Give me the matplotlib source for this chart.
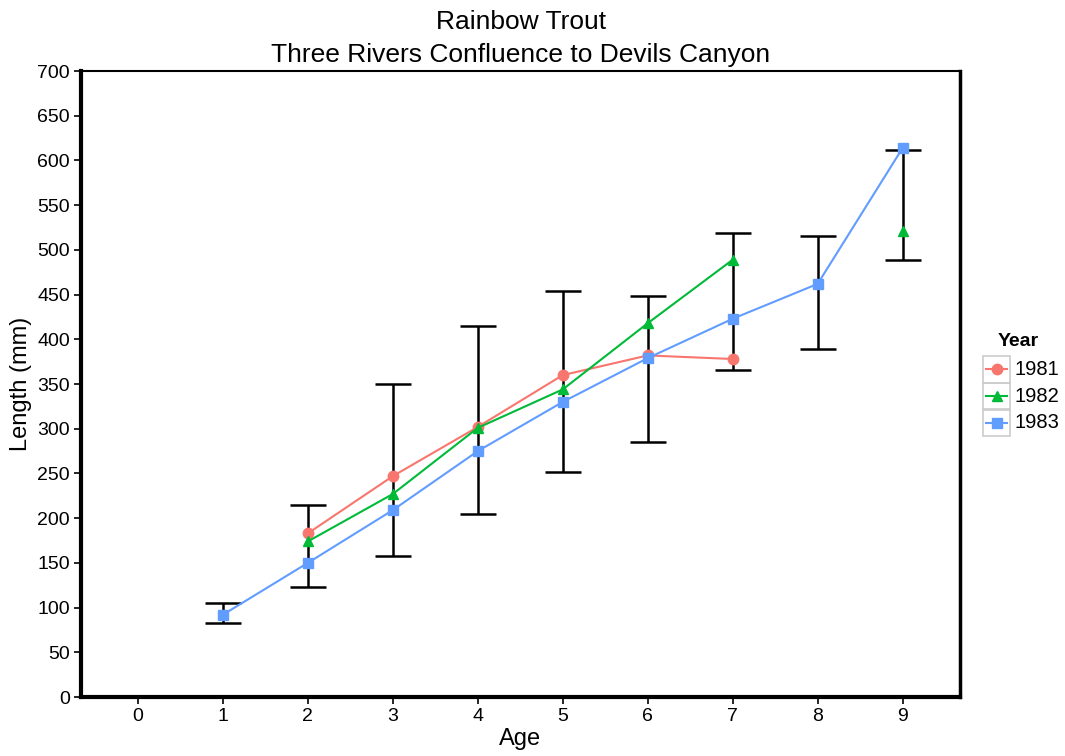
import matplotlib
matplotlib.use("Agg")
import matplotlib.pyplot as plt
import numpy as np
from matplotlib.lines import Line2D
from matplotlib.patches import Rectangle

plt.rcParams['font.family'] = ['Liberation Sans', 'DejaVu Sans']

# mean length by age for each year (nan = no fish at that age)
ages_1981 = [2, 3, 4, 5, 6, 7]
len_1981 = [183, 247, 302, 360, 382, 378]
ages_1982 = [2, 3, 4, 5, 6, 7, 8, 9]
len_1982 = [174, 227, 301, 344, 418, 489, np.nan, 521]
ages_1983 = [1, 2, 3, 4, 5, 6, 7, 8, 9]
len_1983 = [92, 150, 209, 275, 330, 379, 423, 462, 614]

# overall range bars by age
bar_ages = [1, 2, 3, 4, 5, 6, 7, 8, 9]
bar_low = [83, 123, 158, 205, 252, 285, 366, 389, 489]
bar_high = [105, 215, 350, 415, 454, 449, 519, 515, 612]

years = ['1981', '1982', '1983']
colors = ['#F8766D', '#00BA38', '#619CFF']
markers = ['o', '^', 's']

fig = plt.figure(figsize=(10.65, 7.56), dpi=100)
ax = fig.add_axes([0.076, 0.078, 0.825, 0.828])

mid = [(l + h) / 2 for l, h in zip(bar_low, bar_high)]
err = [[m - l for m, l in zip(mid, bar_low)], [h - m for h, m in zip(bar_high, mid)]]
ax.errorbar(bar_ages, mid, yerr=err, fmt='none', ecolor='black', elinewidth=1.8,
            capsize=13, capthick=1.8, zorder=2)

series = [(ages_1981, len_1981), (ages_1982, len_1982), (ages_1983, len_1983)]
for (xs, ys), c, m, yr in zip(series, colors, markers, years):
    ax.plot(xs, ys, color=c, marker=m, markersize=7.5, linewidth=1.5, label=yr, zorder=3)

ax.set_xlim(-0.67, 9.67)
ax.set_ylim(0, 700)
ax.set_xticks(range(0, 10))
ax.set_yticks(range(0, 701, 50))
ax.tick_params(direction='out', length=5, width=1.2, labelsize=14, colors='black', pad=3)
for side, lw in [('left', 3), ('bottom', 3), ('top', 1.5), ('right', 2.5)]:
    ax.spines[side].set_linewidth(lw)
    ax.spines[side].set_color('black')

ax.set_xlabel('Age', fontsize=17, labelpad=2)
ax.set_ylabel('Length (mm)', fontsize=17, labelpad=4)
fig.text(0.489, 0.971, 'Rainbow Trout', ha='center', va='center', fontsize=19)
fig.text(0.489, 0.927, 'Three Rivers Confluence to Devils Canyon', ha='center', va='center', fontsize=19)

# legend drawn by hand, ggplot style keys in grey boxes
W, H = 1065.0, 756.0
fig.text(998 / W, 1 - 341 / H, 'Year', ha='left', va='center', fontsize=14, fontweight='bold')
for i, (c, m, yr) in enumerate(zip(colors, markers, years)):
    cy = 369 + i * 27
    fig.patches.append(Rectangle((983 / W, 1 - (cy + 13.5) / H), 27 / W, 27 / H,
                                 transform=fig.transFigure, fill=False,
                                 edgecolor='#cccccc', linewidth=1.2))
    fig.lines.append(Line2D([986 / W, 1007 / W], [1 - cy / H, 1 - cy / H],
                            transform=fig.transFigure, color=c, linewidth=1.5))
    fig.lines.append(Line2D([996.5 / W], [1 - cy / H], transform=fig.transFigure,
                            color=c, marker=m, markersize=7.5, linestyle='none'))
    fig.text(1014 / W, 1 - cy / H, yr, ha='left', va='center', fontsize=14.5)

fig.savefig('out.png', dpi=100)
